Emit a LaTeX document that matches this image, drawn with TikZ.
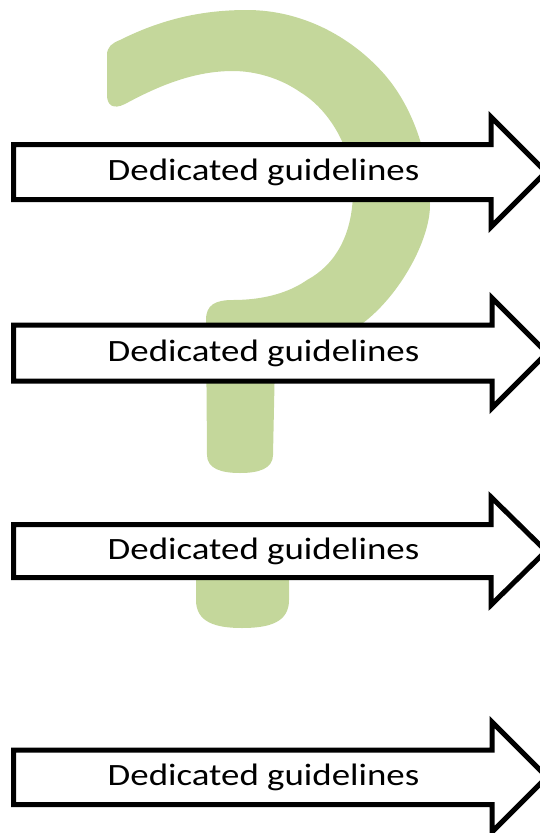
\documentclass[tikz,border=0pt]{standalone}
\usepackage{fontspec}
\setmainfont{Carlito}
\usepackage{xcolor}
\definecolor{qgreen}{HTML}{C4D79B}

\begin{document}
\begin{tikzpicture}[x=1pt,y=-1pt,line join=miter,
                    guide/.style={draw=black,line width=5pt,fill=white},
                    label text/.style={anchor=base,inner sep=0pt,xscale=1.19,transform shape,
                                       font=\fontsize{31}{37}\selectfont}]

  \clip (0,0) rectangle (540,833);

  % the question mark behind
  \fill[qgreen] (107,95) -- (107,55) .. controls (107,47) and (112,43) .. (120,40)
    .. controls (160,20) and (200,10) .. (247,10)
    .. controls (300,10) and (350,35) .. (385,75)
    .. controls (415,110) and (430,160) .. (430,205)
    .. controls (430,240) and (400,295) .. (363,323)
    .. controls (335,345) and (290,345) .. (275,360)
    -- (273,455) .. controls (273,469) and (258,473) .. (240,473)
    .. controls (222,473) and (207,469) .. (207,455)
    -- (206,320) .. controls (206,305) and (215,300) .. (233,300)
    .. controls (265,300) and (290,292) .. (307,280)
    .. controls (335,265) and (353,235) .. (353,190)
    .. controls (353,150) and (330,110) .. (300,92)
    .. controls (280,78) and (255,71) .. (233,71)
    .. controls (195,71) and (160,85) .. (125,104)
    .. controls (113,110) and (107,105) .. (107,95) -- cycle;
  \fill[qgreen] (196,535) -- (196,600) .. controls (196,622) and (215,628) .. (242,628)
    .. controls (270,628) and (289,622) .. (289,600) -- (289,535) -- cycle;

  % arrows
  \draw[guide] (13.5,144.5) -- (491,144.5) -- (491,117) -- (546,172) -- (491,227)
    -- (491,199.5) -- (13.5,199.5) -- cycle;
  \node[label text] (g1) at (263.5,180.5) {Dedicated guidelines};

  \draw[guide] (13.5,325) -- (492,325) -- (492,298) -- (547,353) -- (492,408)
    -- (492,381) -- (13.5,381) -- cycle;
  \node[label text] (g2) at (263.5,361.5) {Dedicated guidelines};

  \draw[guide] (13.5,524.5) -- (491,524.5) -- (491,497) -- (546,551) -- (491,605)
    -- (491,577.5) -- (13.5,577.5) -- cycle;
  \node[label text] (g3) at (263.5,559.5) {Dedicated guidelines};

  \draw[guide] (13.5,750) -- (492,750) -- (492,722) -- (547,777) -- (492,832)
    -- (492,804.5) -- (13.5,804.5) -- cycle;
  \node[label text] (g4) at (263.5,785.5) {Dedicated guidelines};

\end{tikzpicture}
\end{document}
